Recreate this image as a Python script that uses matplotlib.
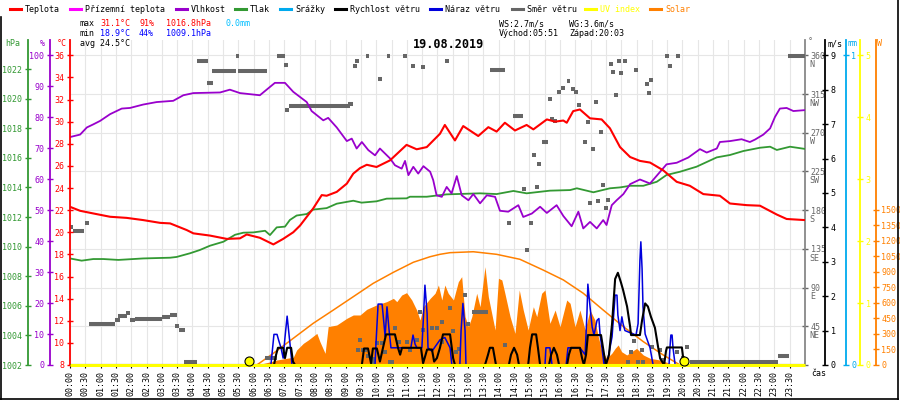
import matplotlib
matplotlib.use("Agg")
import matplotlib.pyplot as plt
from matplotlib.lines import Line2D
from matplotlib.transforms import ScaledTranslation

plt.rcParams['font.family'] = ['DejaVu Sans Mono']
plt.rcParams['font.size'] = 6

# ---- data (hours of day, values) ----
temp_h = [0, 0.33, 0.76, 1.31, 1.85, 2.39, 2.94, 3.27, 3.81, 4.03, 4.57, 5.12, 5.55, 5.77,
          6.2, 6.42, 6.64, 6.96, 7.29, 7.51, 7.94, 8.22, 8.38, 8.71, 9.04, 9.25, 9.47, 9.69,
          10.01, 10.45, 10.99, 11.32, 11.65, 12.08, 12.24, 12.57, 12.84, 13.33, 13.66, 13.93,
          14.2, 14.53, 14.91, 15.13, 15.57, 15.84, 16.11, 16.22, 16.43, 16.65, 16.98, 17.36,
          17.63, 17.96, 18.29, 18.61, 18.94, 19.37, 19.81, 20.24, 20.68, 21.22, 21.55, 22.1,
          22.53, 23.08, 23.4, 24.0]
temp_c = [22.3, 21.94, 21.7, 21.4, 21.3, 21.1, 20.85, 20.8, 20.2, 19.9, 19.7, 19.4, 19.45, 19.8,
          19.5, 19.2, 18.9, 19.4, 20.0, 20.6, 22.15, 23.36, 23.3, 23.65, 24.4, 25.3, 25.8, 26.1,
          25.9, 26.5, 27.9, 27.5, 27.7, 28.9, 29.7, 28.3, 29.6, 28.7, 29.5, 29.1,
          29.9, 29.2, 29.7, 29.3, 30.2, 30.0, 30.1, 29.9, 30.95, 31.1, 30.3, 30.2,
          29.4, 27.7, 26.8, 26.45, 26.3, 25.6, 24.56, 24.2, 23.45, 23.3, 22.6, 22.45,
          22.4, 21.6, 21.2, 21.1]

hum_h = [0, 0.33, 0.55, 0.76, 0.98, 1.31, 1.69, 1.96, 2.39, 2.83, 3.37, 3.7, 4.03, 4.9, 5.22,
         5.55, 6.2, 6.42, 6.69, 7.02, 7.29, 7.73, 7.89, 8.27, 8.43, 8.71, 9.04, 9.2, 9.36, 9.53,
         9.74, 9.96, 10.12, 10.45, 10.61, 10.83, 10.94, 11.05, 11.21, 11.37, 11.54, 11.76, 11.86,
         11.97, 12.14, 12.3, 12.46, 12.63, 12.79, 13.01, 13.17, 13.39, 13.61, 13.88, 14.04,
         14.31, 14.64, 14.8, 15.08, 15.35, 15.57, 15.89, 16.11, 16.38, 16.6, 16.76, 16.98,
         17.2, 17.41, 17.52, 17.69, 17.85, 18.07, 18.29, 18.61, 18.94, 19.27, 19.48, 19.81,
         20.19, 20.57, 20.79, 21.12, 21.22, 21.55, 21.93, 22.2, 22.37, 22.64, 22.86, 23.02,
         23.18, 23.4, 23.62, 24.0]
hum_pct = [73.6, 74.4, 76.7, 77.7, 78.8, 81.0, 82.8, 83.0, 84.1, 84.9, 85.3, 87.1, 87.8, 88.0, 88.9,
           87.8, 87.1, 88.9, 91.1, 91.1, 88.2, 84.9, 82.0, 79.0, 79.8, 76.7, 72.3, 73.1, 69.9, 72.0,
           69.4, 67.7, 69.9, 66.7, 64.5, 63.4, 65.9, 61.3, 64.0, 61.8, 64.2, 62.4, 59.7,
           54.8, 54.3, 57.5, 55.4, 61.0, 54.8, 53.2, 55.2, 52.2, 54.8, 54.3, 49.8,
           49.5, 51.6, 47.8, 48.9, 51.1, 49.1, 51.6, 48.1, 44.8, 49.5, 44.1, 46.2,
           44.1, 46.8, 45.2, 51.6, 53.2, 55.2, 58.4, 59.9, 58.6, 62.4, 64.8, 65.3,
           67.0, 69.7, 68.6, 69.9, 72.0, 72.3, 72.9, 72.0, 72.8, 74.4, 76.4, 80.1,
           82.8, 83.0, 82.0, 82.3]

press_h = [0, 0.38, 0.76, 1.09, 1.58, 2.39, 3.27, 3.48, 3.92, 4.24, 4.57, 5.01, 5.39, 5.66, 5.99,
           6.37, 6.53, 6.75, 7.02, 7.18, 7.4, 7.73, 7.94, 8.38, 8.71, 9.25, 9.52, 10.01, 10.34,
           10.99, 11.1, 11.65, 12.3, 13.39, 13.93, 14.48, 14.91, 15.67, 16.33, 16.55, 17.09,
           17.63, 17.96, 18.29, 18.72, 19.16, 19.48, 19.92, 20.46, 21.12, 21.55, 21.99, 22.53,
           22.86, 23.08, 23.51, 24.0]
press_hpa = [1009.2, 1009.05, 1009.16, 1009.16, 1009.1, 1009.2, 1009.25, 1009.3, 1009.55, 1009.77,
             1010.06, 1010.33, 1010.8, 1010.94, 1010.96, 1011.07, 1010.78, 1011.3, 1011.35, 1011.8,
             1012.1, 1012.2, 1012.5, 1012.6, 1012.9, 1013.1, 1012.97, 1013.06, 1013.24, 1013.26,
             1013.37, 1013.37, 1013.53, 1013.6, 1013.55, 1013.76, 1013.6, 1013.78, 1013.82,
             1013.94, 1013.67, 1013.94, 1014.0, 1014.11, 1014.11, 1014.38, 1014.84, 1015.06,
             1015.4, 1016.03, 1016.19, 1016.46, 1016.68, 1016.75, 1016.53, 1016.75, 1016.6]

wind_h = [0, 6.66, 6.73, 6.79, 6.96, 7.02, 7.09, 7.22, 7.28, 7.35, 9.53, 9.6, 9.73, 9.83, 9.89,
          10.02, 10.12, 10.22, 10.32, 10.61, 10.71, 10.78, 10.84, 11.46, 11.53, 11.66, 11.82,
          11.89, 11.98, 12.08, 12.18, 12.41, 12.51, 12.57, 13.55, 13.65, 13.71, 13.81, 13.91,
          14.33, 14.4, 14.5, 14.6, 14.66, 14.96, 15.02, 15.09, 15.22, 15.28, 15.35, 15.64,
          15.71, 15.8, 15.9, 15.97, 16.23, 16.29, 16.36, 16.65, 16.72, 16.78, 16.85, 16.91,
          17.34, 17.44, 17.5, 17.6, 17.7, 17.8, 17.89, 17.99, 18.06, 18.19, 18.29, 18.32,
          18.61, 18.68, 18.78, 18.87, 18.97, 19.1, 19.2, 19.27, 19.4, 19.46, 19.49, 19.98,
          20.05, 24.0]
wind_ms = [0, 0, 0.3, 0.5, 0.5, 0.2, 0.5, 0.5, 0.1, 0, 0, 0.48, 0.48, 0.05, 0.48,
           0.48, 0.1, 0.5, 0.89, 0.89, 0.5, 0.3, 0.5, 0.5, 0.05, 0.45, 0.45,
           0.1, 0.2, 0.5, 0.89, 0.89, 0.2, 0, 0, 0.3, 0.5, 0.5, 0,
           0, 0.3, 0.5, 0.3, 0, 0, 0.5, 0.89, 0.89, 0.5, 0, 0,
           0.3, 0.5, 0.3, 0, 0, 0.3, 0.5, 0.5, 0.2, 0, 0.3, 0.87,
           0.87, 0.3, 0, 0.3, 1.2, 2.5, 2.68, 2.4, 2.18, 1.7, 1.11, 0.87,
           0.87, 1.3, 1.79, 1.7, 1.4, 1.08, 0.54, 0.19, 0, 0.4, 0.51, 0.51,
           0, 0]

gust_h = [0, 6.56, 6.66, 6.76, 6.82, 6.89, 6.96, 7.02, 7.09, 7.15, 7.22, 7.25, 9.96, 9.99, 10.06,
          10.19, 10.22, 10.29, 10.35, 10.42, 10.48, 11.13, 11.2, 11.27, 11.33, 11.49, 11.53,
          11.59, 11.66, 11.69, 11.82, 12.08, 12.24, 12.41, 12.47, 12.73, 12.77, 12.83, 12.9,
          12.93, 15.51, 15.54, 15.67, 15.74, 16.2, 16.26, 16.65, 16.82, 16.88, 16.91, 16.98,
          17.05, 17.11, 17.21, 17.27, 17.31, 17.37, 17.44, 17.57, 17.7, 17.8, 17.86, 17.89,
          17.96, 18.02, 18.06, 18.12, 18.48, 18.55, 18.61, 18.64, 18.68, 18.71, 18.78, 18.94,
          19.04, 19.56, 19.59, 19.62, 19.66, 19.69, 19.76, 24.0]
gust_ms = [0, 0, 0.89, 0.89, 0.7, 0.5, 0.2, 0.8, 1.42, 0.9, 0.3, 0, 0, 0.6, 1.77,
           1.77, 1.5, 0.82, 1.69, 1.0, 0.5, 0.5, 0.87, 0.6, 0.5, 0.5, 1.2,
           2.32, 1.5, 0.5, 0.4, 0.73, 0.8, 0.5, 0, 0, 1.0, 1.79, 1.0,
           0, 0, 0.5, 0.5, 0, 0, 0.5, 0.5, 0.3, 1.5, 2.35, 1.7,
           1.1, 0.87, 1.3, 1.35, 0.87, 0.5, 0, 0.2, 0.82, 2.03, 2.03, 1.45,
           1.0, 1.4, 1.2, 1.0, 0.87, 1.2, 3.05, 3.58, 2.8, 1.69, 0.9, 0.5,
           0, 0, 0.5, 0.87, 0.87, 0.5, 0, 0]

# wind direction: steady stretches (from hour, to hour, degrees) ...
run_t0 = [0.1, 0.63, 1.47, 1.57, 1.96, 2.12, 2.99, 3.27, 3.57, 3.72, 4.16, 4.48, 4.65, 5.41,
          5.5, 6.37, 6.75, 6.99, 7.16, 9.09, 9.25, 9.67, 10.07, 10.34, 13.12, 13.71, 14.46,
          15.4, 16.22, 19.79, 20.24, 23.12, 23.44]
run_t1 = [0.45, 1.47, 1.63, 1.85, 2.12, 2.99, 3.27, 3.48, 3.76, 4.16, 4.5, 4.66, 5.41, 5.52,
          6.42, 6.75, 7.02, 7.11, 9.14, 9.25, 9.36, 9.77, 10.18, 10.45, 13.66, 14.2, 14.78,
          15.62, 16.33, 19.92, 23.12, 23.48, 24.0]
run_deg = [156, 48, 52, 57, 52, 53, 56, 58, 41, 4, 353, 328, 342, 359,
           342, 8, 359, 349, 301, 303, 348, 359, 332, 359, 62, 343, 290,
           259, 330, 359, 4, 10, 359]
# ... and single readings (hour, degrees)
pt_h = [0.03, 0.54, 1.9, 3.5, 7.1, 9.36, 9.41, 9.47, 9.58, 9.63, 9.73, 9.88, 9.9, 10.01, 10.18,
        10.29, 10.45, 10.5, 10.61, 10.75, 10.94, 10.99, 11.1, 11.21, 11.32, 11.43, 11.54,
        11.54, 11.81, 11.97, 12.14, 12.14, 12.3, 12.41, 12.5, 12.6, 12.71, 12.9, 13.01,
        14.2, 14.34, 14.82, 14.91, 15.04, 15.15, 15.24, 15.31, 15.67, 15.73, 15.84, 15.98,
        16.11, 16.41, 16.52, 16.63, 16.82, 16.92, 16.98, 17.09, 17.18, 17.23, 17.34, 17.39,
        17.5, 17.58, 17.67, 17.72, 17.83, 17.94, 17.99, 18.12, 18.23, 18.32, 18.42, 18.48,
        18.56, 18.67, 18.72, 18.83, 18.91, 18.97, 18.99, 19.27, 19.37, 19.48, 19.59, 19.81,
        20.03, 20.16]
pt_deg = [161, 165, 60, 45, 297, 353, 18, 29, 18, 17, 10, 4, 7, 25, 25,
          15, 4, 4, 43, 27, 359, 27, 17, 348, 29, 62, 346,
          41, 43, 43, 50, 27, 353, 66, 39, 15, 19, 81, 48,
          23, 165, 205, 134, 165, 244, 207, 234, 309, 286, 284, 317,
          322, 321, 317, 302, 259, 283, 188, 251, 306, 191, 271, 209,
          183, 192, 350, 341, 314, 353, 340, 353, 4, 15, 28, 343,
          4, 17, 4, 327, 316, 331, 21, 17, 6, 359, 348, 15,
          8, 21]

solar_h = [6.1, 6.42, 6.75, 7.08, 7.29, 7.4, 7.62, 7.78, 8.06, 8.16, 8.33, 8.43, 8.71, 9.04,
           9.25, 9.47, 9.69, 10.01, 10.34, 10.56, 10.67, 10.83, 10.99, 11.16, 11.32, 11.43,
           11.54, 11.76, 11.92, 12.03, 12.14, 12.24, 12.35, 12.52, 12.68, 12.79, 12.9, 13.01,
           13.12, 13.28, 13.39, 13.55, 13.66, 13.77, 13.88, 13.99, 14.1, 14.2, 14.37, 14.53,
           14.67, 14.8, 14.96, 15.13, 15.24, 15.4, 15.51, 15.67, 15.84, 16.0, 16.22, 16.33,
           16.49, 16.65, 16.82, 16.98, 17.14, 17.25, 17.36, 17.52, 17.69, 17.8, 17.9, 18.01,
           18.18, 18.34, 18.5, 18.72, 18.94, 19.27, 19.59, 19.81]
solar_w = [0, 22, 48, 65, 74, 145, 210, 242, 306, 226, 113, 371, 387, 452,
           484, 484, 539, 581, 613, 645, 613, 677, 700, 629, 532, 435,
           564, 645, 694, 774, 629, 774, 694, 629, 806, 855, 468, 371,
           468, 694, 564, 951, 661, 500, 339, 839, 823, 694, 468, 306,
           726, 532, 339, 564, 468, 694, 726, 403, 532, 371, 629, 597,
           371, 532, 339, 532, 435, 274, 145, 65, 113, 161, 194, 129,
           97, 129, 161, 97, 65, 48, 16, 0]

solarmax_h = [6.1, 6.64, 7.29, 7.94, 8.6, 9.25, 9.9, 10.56, 11.21, 11.76, 12.08, 12.41, 13.17,
              13.93, 14.69, 15.45, 16.11, 16.76, 17.41, 18.07, 18.72, 19.37, 19.92]
solarmax_w = [0, 113, 258, 403, 532, 661, 790, 897, 994, 1048, 1071, 1087, 1096,
              1071, 1023, 919, 823, 694, 532, 371, 226, 97, 0]

uv_h = [0, 24]
uv_idx = [0, 0]
sun_h = [5 + 51 / 60, 20 + 3 / 60]

time_labels = ["%02d:%02d" % (m // 60, m % 60) for m in range(0, 24 * 60, 30)]
time_ticks = [int(s[:2]) + int(s[3:]) / 60 for s in time_labels]

dir_ticks = [0, 45, 90, 135, 180, 225, 270, 315, 360]
dir_labels = ['', '45', '90', '135', '180', '225', '270', '315', '360']
compass = ['NE', 'E', 'SE', 'S', 'SW', 'W', 'NW', 'N']

RED = '#ff0000'
MAGENTA = '#ff00ff'
PURPLE = '#9900cc'
GREEN = '#339933'
SKY = '#00aaee'
BLUE = '#0000dd'
GRAY = '#666666'
YELLOW = '#ffff00'
ORANGE = '#ff8000'

W, H = 900.0, 400.0


def fx(x):
    return x / W


def fy(y):
    return 1 - y / H


fig = plt.figure(figsize=(9, 4), dpi=100)
fig.patch.set_facecolor('white')

ax = fig.add_axes([fx(70), fy(365), 735 / W, 325 / H])
ax_s = ax.twinx()
ax_dd = ax.twinx()
ax_p = ax.twinx()
ax_h = ax.twinx()
ax_t = ax.twinx()
ax_w = ax.twinx()
ax_mm = ax.twinx()
ax_uv = ax.twinx()
for i, a in enumerate([ax, ax_s, ax_dd, ax_p, ax_h, ax_t, ax_w, ax_mm, ax_uv]):
    a.set_zorder(i)
    for s in a.spines.values():
        s.set_visible(False)


def y_axis(a, side, off, color, lim, ticks, labels=None):
    a.set_ylim(*lim)
    sp = a.spines[side]
    sp.set_visible(True)
    sp.set_color(color)
    sp.set_linewidth(1.3)
    sp.set_position(('outward', off * 0.72))
    if side == 'left':
        a.yaxis.tick_left()
    else:
        a.yaxis.tick_right()
    a.set_yticks(ticks)
    if labels is not None:
        a.set_yticklabels(labels)
    a.tick_params(axis='y', colors=color, direction='inout', length=5, width=1,
                  pad=1.5, labelsize=6)


# base axis: time + wind direction scale + grid
ax.set_xlim(0, 24)
y_axis(ax, 'right', 0, GRAY, (0, 377.8), dir_ticks, dir_labels)
ax.set_yticks([v - 9.5 for v in dir_ticks[1:]], minor=True)
ax.set_yticklabels(compass, minor=True)
ax.tick_params(axis='y', which='minor', length=0, colors=GRAY, pad=3.5)
ax.spines['right'].set_color('#888888')
ax.set_xticks(time_ticks)
ax.set_xticklabels(time_labels, rotation=90, va='top')
ax.tick_params(axis='x', direction='out', length=2.5, width=0.8, pad=1.5,
               colors='black', labelsize=6)
ax.grid(True, color='#e6e6e6', lw=0.8)
ax.set_axisbelow(True)

ax_dd.set_ylim(0, 377.8)
ax_dd.yaxis.set_visible(False)

y_axis(ax_t, 'left', 0, RED, (8, 37.38), list(range(8, 37, 2)))
y_axis(ax_h, 'left', 20, PURPLE, (0, 104.94), list(range(0, 101, 10)))
y_axis(ax_p, 'left', 42, GREEN, (1002, 1023.96), list(range(1002, 1023, 2)))
y_axis(ax_w, 'right', 20, 'black', (0, 9.445), list(range(0, 10)))
y_axis(ax_mm, 'right', 40.7, SKY, (0, 1.049), [0, 1])
y_axis(ax_uv, 'right', 55, YELLOW, (0, 5.247), list(range(0, 6)))
y_axis(ax_s, 'right', 70.7, ORANGE, (0, 3145), list(range(0, 1501, 150)))

# series
ax_s.fill_between(solar_h, solar_w, 0, color=ORANGE, lw=0)
ax_s.plot(solarmax_h, solarmax_w, color=ORANGE, lw=1.1)
ax_dd.hlines(run_deg, run_t0, run_t1, color=GRAY, lw=2.9)
ax_dd.plot(pt_h, pt_deg, 's', color=GRAY, ms=3.4, mew=0)
ax_p.plot(press_h, press_hpa, color=GREEN, lw=1.3)
ax_h.plot(hum_h, hum_pct, color=PURPLE, lw=1.3)
ax_t.plot(temp_h, temp_c, color=RED, lw=1.5)
ax_w.plot(gust_h, gust_ms, color=BLUE, lw=1.1)
ax_w.plot(wind_h, wind_ms, color='black', lw=1.5)
ax_uv.plot(uv_h, uv_idx, color=YELLOW, lw=2.2, clip_on=False, solid_capstyle='butt')
lift = ScaledTranslation(0, 4 / 100, fig.dpi_scale_trans)
ax_uv.plot(sun_h, [0, 0], 'o', ms=6.5, mfc=YELLOW, mec='black', mew=0.8,
           clip_on=False, transform=ax_uv.transData + lift)

# axis unit labels
fig.text(fx(5), fy(44), 'hPa', color=GREEN, va='center')
fig.text(fx(40), fy(44), '%', color=PURPLE, va='center')
fig.text(fx(57), fy(44), '°C', color=RED, va='center')
fig.text(fx(808), fy(42), '°', color=GRAY, va='center')
fig.text(fx(828), fy(44), 'm/s', color='black', va='center')
fig.text(fx(848), fy(44), 'mm', color=SKY, va='center')
fig.text(fx(877), fy(44), 'W', color=ORANGE, va='center')
fig.text(fx(811), fy(373), 'čas', color='black', va='center')

# legend row
legend_items = [("Teplota", RED, 10), ("Přízemní teplota", MAGENTA, 70),
                ("Vlhkost", PURPLE, 176), ("Tlak", GREEN, 235), ("Srážky", SKY, 280),
                ("Rychlost větru", 'black', 335), ("Náraz větru", BLUE, 430),
                ("Směr větru", GRAY, 512), ("UV index", YELLOW, 585), ("Solar", ORANGE, 650)]
for name, col, x0 in legend_items:
    fig.add_artist(Line2D([fx(x0), fx(x0 + 11)], [fy(9), fy(9)], color=col, lw=2.2))
    tcol = col if name in ("UV index", "Solar") else 'black'
    fig.text(fx(x0 + 15), fy(9), name, color=tcol, va='center')

# statistics block
fig.text(fx(80), fy(24), 'max', color='black', va='center')
fig.text(fx(100), fy(24), '31.1°C', color=RED, va='center')
fig.text(fx(139), fy(24), '91%', color=RED, va='center')
fig.text(fx(166), fy(24), '1016.8hPa', color=RED, va='center')
fig.text(fx(226), fy(24), '0.0mm', color='#00bfff', va='center')
fig.text(fx(80), fy(34), 'min', color='black', va='center')
fig.text(fx(100), fy(34), '18.9°C', color='#0000ff', va='center')
fig.text(fx(139), fy(34), '44%', color='#0000ff', va='center')
fig.text(fx(166), fy(34), '1009.1hPa', color='#0000ff', va='center')
fig.text(fx(80), fy(44), 'avg 24.5°C', color='black', va='center')
fig.text(fx(499), fy(24), 'WS:2.7m/s', color='black', va='center')
fig.text(fx(569), fy(24), 'WG:3.6m/s', color='black', va='center')
fig.text(fx(499), fy(34), 'Východ:05:51', color='black', va='center')
fig.text(fx(569), fy(34), 'Západ:20:03', color='black', va='center')
fig.text(fx(449), fy(45), '19.08.2019', color='black', fontsize=8.5,
         fontweight='bold', ha='center', va='center')

# frame
fig.add_artist(Line2D([fx(0.5), fx(0.5)], [fy(17), fy(399.5)], color='black', lw=1.2))
fig.add_artist(Line2D([fx(0), fx(897.5)], [fy(399.3), fy(399.3)], color='black', lw=1.2))
fig.add_artist(Line2D([fx(897.5), fx(897.5)], [fy(0), fy(399.5)], color='black', lw=1.2))

fig.savefig('out.png', dpi=100, facecolor='white')
